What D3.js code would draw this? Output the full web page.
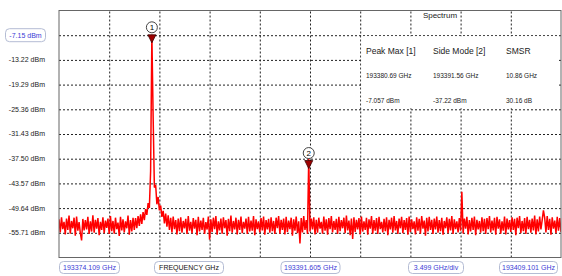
<!DOCTYPE html>
<html>
<head>
<meta charset="utf-8">
<script src="https://cdn.jsdelivr.net/npm/d3@7"></script>
<style>
body { margin: 0; background: #fff; }
text { font-family: "Liberation Sans", Arial, sans-serif; }
</style>
</head>
<body>
<svg id="chart" width="562" height="276"></svg>
<script>
// frequency span of the sweep (GHz)
var freqStart = 193374.109;
var freqStop = 193409.101;
var freqDiv = 3.499;

// level axis (dBm)
var levelTop = -1.08;
var levelBottom = -61.78;
var levelTicks = [-7.15, -13.22, -19.29, -25.36, -31.43, -37.50, -43.57, -49.64, -55.71];

// spectrum trace, 401 points evenly spaced from freqStart to freqStop (dBm)
var trace = [
	-52.4,-55.6,-51.9,-54.8,-53.0,-56.1,-52.2,-55.0,-51.5,-55.9,-52.8,-54.6,-52.0,-56.4,-51.7,-55.2,-53.1,-55.8,-57.6,-52.3,
	-55.1,-52.6,-54.9,-51.8,-56.0,-52.9,-55.4,-51.4,-55.7,-52.5,-54.7,-52.1,-56.3,-53.0,-55.0,-51.9,-55.8,-52.7,-54.5,-52.2,
	-56.0,-51.6,-55.3,-52.8,-55.9,-52.0,-54.8,-53.2,-56.5,-51.8,-55.1,-52.4,-55.6,-52.9,-54.6,-51.5,-56.2,-52.6,-55.4,-52.0,
	-55.0,-52.1,-54.6,-51.6,-54.0,-51.2,-53.5,-50.6,-52.6,-49.9,-51.3,-48.4,-49.6,-40.5,-7.06,-27.0,-44.6,-43.9,-48.7,-46.9,
	-50.2,-49.0,-51.8,-50.3,-53.4,-51.0,-54.2,-51.4,-55.0,-52.0,-55.6,-51.7,-54.8,-52.6,-56.1,-52.2,-55.3,-51.9,-55.7,-52.8,
	-54.6,-52.3,-56.0,-51.6,-55.2,-53.0,-55.8,-52.1,-54.7,-52.5,-56.3,-51.8,-55.4,-52.7,-55.0,-52.0,-56.0,-53.1,-54.9,-51.7,
	-57.4,-52.4,-55.5,-52.0,-54.8,-51.6,-56.2,-52.9,-55.1,-52.2,-55.9,-51.9,-54.6,-52.6,-56.4,-52.3,-55.3,-51.5,-55.7,-52.8,
	-54.9,-52.0,-56.1,-52.5,-55.0,-51.7,-55.8,-53.0,-54.7,-52.2,-56.0,-51.8,-55.4,-52.7,-55.2,-51.6,-56.3,-52.4,-54.8,-52.9,
	-55.6,-52.1,-55.1,-51.7,-56.2,-52.6,-54.9,-52.3,-55.7,-51.9,-55.3,-52.8,-56.0,-52.0,-54.6,-51.6,-55.9,-52.5,-55.0,-52.2,
	-56.1,-51.8,-55.5,-52.7,-54.8,-52.0,-56.4,-52.4,-55.2,-51.7,-55.8,-52.9,-58.3,-52.1,-55.6,-51.6,-55.0,-52.6,-56.0,-37.22,
	-55.4,-52.2,-54.9,-51.9,-56.1,-52.5,-55.7,-52.0,-54.7,-53.0,-55.9,-51.7,-55.2,-52.4,-56.2,-52.1,-54.8,-51.6,-55.6,-52.8,
	-55.0,-52.3,-56.0,-51.8,-55.3,-52.6,-54.6,-52.0,-55.8,-51.5,-55.1,-52.7,-56.3,-52.2,-57.2,-51.9,-55.5,-52.5,-54.9,-52.1,
	-56.1,-51.7,-55.4,-52.9,-55.0,-52.0,-56.2,-52.4,-54.7,-51.6,-55.9,-52.6,-55.2,-52.1,-56.0,-51.8,-54.8,-53.0,-55.6,-52.3,
	-55.3,-51.9,-56.3,-52.5,-54.9,-52.0,-55.7,-51.6,-55.1,-52.8,-56.0,-52.2,-54.6,-51.8,-55.8,-52.6,-55.0,-52.1,-56.2,-51.7,
	-55.5,-52.4,-54.8,-52.9,-56.1,-51.9,-55.2,-52.3,-55.9,-51.6,-54.7,-52.7,-56.4,-52.0,-55.4,-51.8,-55.0,-52.5,-56.0,-52.2,
	-54.9,-51.7,-55.7,-52.6,-55.3,-52.0,-56.2,-52.8,-54.6,-51.9,-55.8,-52.3,-55.1,-51.6,-56.0,-52.4,-54.8,-52.9,-55.6,-52.1,
	-55.2,-45.6,-55.9,-52.2,-54.7,-51.8,-56.1,-52.6,-55.4,-52.0,-55.0,-51.7,-56.3,-52.5,-54.9,-52.8,-55.7,-51.9,-55.3,-52.3,
	-56.0,-52.1,-54.8,-51.6,-55.6,-52.7,-55.1,-52.0,-56.2,-51.8,-54.7,-52.4,-55.9,-52.9,-55.2,-51.7,-56.1,-52.2,-54.9,-52.6,
	-55.5,-51.9,-55.0,-52.3,-56.3,-52.0,-54.6,-51.6,-55.8,-52.8,-55.3,-52.1,-56.0,-51.8,-54.8,-52.5,-55.7,-52.2,-55.1,-51.5,
	-56.1,-52.4,-55.4,-51.7,-54.9,-52.6,-50.2,-52.0,-55.6,-51.6,-55.0,-52.3,-56.2,-51.9,-54.7,-52.7,-55.8,-51.8,-55.2,-52.1,
	-55.5
];

// markers
var markerIds = [1, 2];
var markerFreqs = [193380.69, 193391.56];
var markerLevels = [-7.057, -37.22];

// results table
var tableHeads = ["Peak Max [1]", "Side Mode [2]", "SMSR"];
var smsrFreq = 10.86;
var smsrLevel = 30.16;

var svg = d3.select("#chart");
var plotL = 59, plotR = 561, plotT = 10.5, plotB = 257.5;

var x = d3.scaleLinear().domain([freqStart, freqStop]).range([plotL, plotR]);
var y = d3.scaleLinear().domain([levelBottom, levelTop]).range([plotB, plotT]);
var step = (freqStop - freqStart) / (trace.length - 1);
var blue = "#3b3bd6";

svg.append("rect")
	.attr("x", 0).attr("y", 0).attr("width", 562).attr("height", 276)
	.attr("fill", "#fff");

// vertical grid
var vTicks = d3.range(1, 10).map(function(k) { return freqStart + k * (freqStop - freqStart) / 10; });
svg.append("g")
	.attr("class", "grid")
	.attr("transform", "translate(0," + plotB + ")")
	.call(d3.axisBottom(x).tickValues(vTicks).tickSize(-(plotB - plotT)).tickFormat(""))
	.call(function(g) { g.select(".domain").remove(); })
	.selectAll("line")
	.attr("stroke", "#222")
	.attr("stroke-dasharray", "2,2");

// horizontal grid
svg.append("g")
	.attr("class", "grid")
	.attr("transform", "translate(" + plotL + ",0)")
	.call(d3.axisLeft(y).tickValues(levelTicks).tickSize(-(plotR - plotL)).tickFormat(""))
	.call(function(g) { g.select(".domain").remove(); })
	.selectAll("line")
	.attr("stroke", "#222")
	.attr("stroke-dasharray", "2,2");

// results panel covers part of the grid
var panelX = x(vTicks[5]) + 1;
svg.append("rect")
	.attr("x", panelX)
	.attr("y", y(levelTicks[0]) + 1)
	.attr("width", plotR - 3 - panelX)
	.attr("height", y(levelTicks[3]) - y(levelTicks[0]) - 2)
	.attr("fill", "#fff");

svg.append("text")
	.attr("x", 440)
	.attr("y", 18)
	.attr("text-anchor", "middle")
	.attr("fill", "#222")
	.style("font-size", "8px")
	.text("Spectrum");

var cols = [366, 433, 506];
svg.selectAll(".head").data(tableHeads).enter().append("text")
	.attr("class", "head")
	.attr("x", function(d, i) { return cols[i]; })
	.attr("y", 54)
	.attr("fill", "#222")
	.style("font-size", "8.5px")
	.text(function(d) { return d; });

var freqRow = [markerFreqs[0].toFixed(2) + " GHz", markerFreqs[1].toFixed(2) + " GHz", smsrFreq.toFixed(2) + " GHz"];
var levelRow = [markerLevels[0] + " dBm", markerLevels[1].toFixed(2) + " dBm", smsrLevel.toFixed(2) + " dB"];
[freqRow, levelRow].forEach(function(row, r) {
	svg.selectAll(".row" + r).data(row).enter().append("text")
		.attr("class", "row" + r)
		.attr("x", function(d, i) { return cols[i]; })
		.attr("y", 78 + r * 25)
		.attr("fill", "#222")
		.style("font-size", "6.5px")
		.text(function(d) { return d; });
});

// trace
svg.append("clipPath").attr("id", "plotclip")
	.append("rect").attr("x", plotL).attr("y", plotT).attr("width", plotR - plotL).attr("height", plotB - plotT);

var line = d3.line()
	.x(function(d, i) { return x(freqStart + i * step); })
	.y(function(d) { return y(d); });

svg.append("path")
	.datum(trace)
	.attr("clip-path", "url(#plotclip)")
	.attr("fill", "none")
	.attr("stroke", "#ff0000")
	.attr("stroke-width", 1.5)
	.attr("stroke-linejoin", "bevel")
	.attr("d", line);

// frame
svg.append("rect")
	.attr("x", plotL).attr("y", plotT)
	.attr("width", plotR - plotL).attr("height", plotB - plotT)
	.attr("fill", "none")
	.attr("stroke", "#666")
	.attr("stroke-width", 1);

// markers, placed on the trace maximum nearest each marker frequency
markerIds.forEach(function(id, m) {
	var c = Math.round((markerFreqs[m] - freqStart) / step);
	var best = c;
	for (var k = c - 3; k <= c + 3; k++) if (trace[k] > trace[best]) best = k;
	var mx = x(freqStart + best * step);
	var my = y(markerLevels[m]) + (m === 0 ? 0 : 3);
	var g = svg.append("g").attr("class", "marker");
	g.append("path")
		.attr("d", "M" + (mx - 4) + "," + my + "L" + (mx + 4) + "," + my + "L" + mx + "," + (my + 8) + "Z")
		.attr("fill", "#a00000")
		.attr("stroke", "#3a0000")
		.attr("stroke-width", 0.8);
	g.append("circle")
		.attr("cx", mx).attr("cy", my - 7.5).attr("r", 5.5)
		.attr("fill", "#fff")
		.attr("stroke", "#444");
	g.append("text")
		.attr("x", mx).attr("y", my - 7.5)
		.attr("dy", "0.35em")
		.attr("text-anchor", "middle")
		.style("font-size", "8px")
		.text(id);
});

// level labels
svg.append("rect")
	.attr("x", 5.5).attr("y", y(levelTicks[0]) - 6.5)
	.attr("width", 40).attr("height", 13)
	.attr("rx", 4)
	.attr("fill", "#fff")
	.attr("stroke", "#b4bcd4");

svg.selectAll(".ylab").data(levelTicks).enter().append("text")
	.attr("class", "ylab")
	.attr("x", function(d, i) { return i === 0 ? 25.5 : 45; })
	.attr("y", function(d) { return y(d); })
	.attr("dy", "0.35em")
	.attr("text-anchor", function(d, i) { return i === 0 ? "middle" : "end"; })
	.attr("fill", function(d, i) { return i === 0 ? blue : "#222"; })
	.style("font-size", "7px")
	.text(function(d) { return d.toFixed(2) + " dBm"; });

// bottom labels
var fmtF = d3.format(".3f");
var boxes = [
	{text: fmtF(freqStart) + " GHz", x0: plotL, w: 60, color: blue},
	{text: "FREQUENCY GHz", x0: 154, w: 69, color: "#111"},
	{text: fmtF((freqStart + freqStop) / 2) + " GHz", x0: x((freqStart + freqStop) / 2) - 29.5, w: 59, color: blue},
	{text: freqDiv + " GHz/div", x0: 408, w: 55, color: blue},
	{text: fmtF(freqStop) + " GHz", x0: plotR - 62, w: 58, color: blue}
];
var bg = svg.selectAll(".xlab").data(boxes).enter().append("g").attr("class", "xlab");
bg.append("rect")
	.attr("x", function(d) { return d.x0 + 0.5; })
	.attr("y", 261.5)
	.attr("width", function(d) { return d.w; })
	.attr("height", 12)
	.attr("rx", 4)
	.attr("fill", "#fff")
	.attr("stroke", "#b4bcd4");
bg.append("text")
	.attr("x", function(d) { return d.x0 + 0.5 + d.w / 2; })
	.attr("y", 267.5)
	.attr("dy", "0.35em")
	.attr("text-anchor", "middle")
	.attr("fill", function(d) { return d.color; })
	.style("font-size", "7px")
	.text(function(d) { return d.text; });
</script>
</body>
</html>
